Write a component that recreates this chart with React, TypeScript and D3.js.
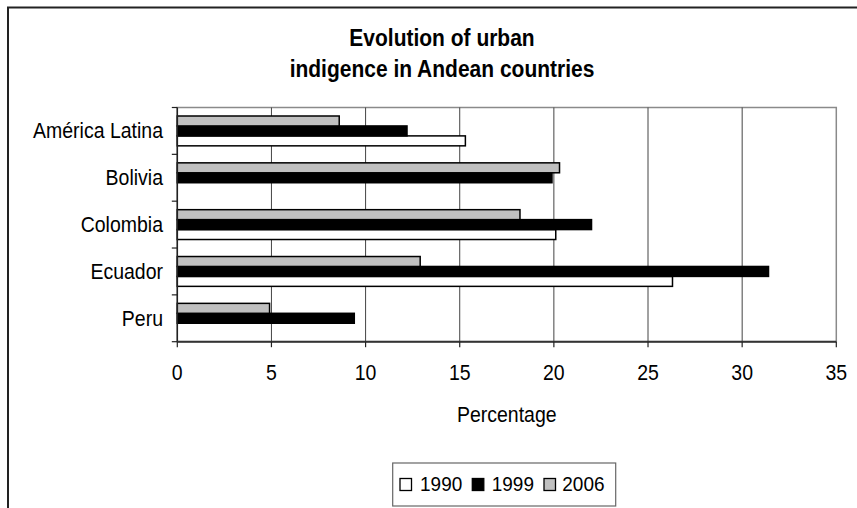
import React from "react";
import * as d3 from "d3";

const countries = ["América Latina", "Bolivia", "Colombia", "Ecuador", "Peru"];
const years = ["1990", "1999", "2006"];
const values1990: (number | null)[] = [15.3, null, 20.1, 26.3, null];
const values1999: (number | null)[] = [12.2, 19.9, 22.0, 31.4, 9.4];
const values2006: (number | null)[] = [8.6, 20.3, 18.2, 12.9, 4.9];
const xTicks = [0, 5, 10, 15, 20, 25, 30, 35];
const titleLines = ["Evolution of urban", "indigence in Andean countries"];
const axisTitle = "Percentage";

const seriesFill: Record<string, string> = {
  "1990": "#ffffff",
  "1999": "#000000",
  "2006": "#c0c0c0",
};

const W = 857;
const H = 508;
const plot = { left: 177.3, right: 836.3, top: 107.5, bottom: 341.7 };
const FONT = "'Liberation Sans', Arial, Helvetica, sans-serif";
const STRETCH = 1.1;

type LabelProps = {
  x: number;
  y: number;
  size: number;
  anchor?: "start" | "middle" | "end";
  bold?: boolean;
  children: React.ReactNode;
};

// text slightly stretched vertically, anchored at its baseline
function Label({ x, y, size, anchor = "start", bold = false, children }: LabelProps) {
  return (
    <text
      transform={`translate(${x},${y}) scale(1,${STRETCH})`}
      textAnchor={anchor}
      fontSize={size}
      fontWeight={bold ? "bold" : "normal"}
      fill="#000"
    >
      {children}
    </text>
  );
}

export default function App() {
  const x = d3.scaleLinear().domain([0, 35]).range([plot.left, plot.right]);
  const y = d3
    .scaleBand<string>()
    .domain(countries)
    .range([plot.top, plot.bottom])
    .paddingInner(0)
    .paddingOuter(0);
  const step = y.bandwidth();
  // bars inside a group, top to bottom: 2006, 1999, 1990
  const inner = d3
    .scaleBand<string>()
    .domain(["2006", "1999", "1990"])
    .range([8.5, step - 8.5]);

  const seriesValues: Record<string, (number | null)[]> = {
    "1990": values1990,
    "1999": values1999,
    "2006": values2006,
  };

  const bars: { key: string; x0: number; x1: number; y0: number; h: number; fill: string }[] = [];
  countries.forEach((c, i) => {
    years.forEach((yr) => {
      const v = seriesValues[yr][i];
      if (v == null) return;
      bars.push({
        key: `${c}-${yr}`,
        x0: x(0),
        x1: x(v),
        y0: (y(c) as number) + (inner(yr) as number),
        h: inner.bandwidth(),
        fill: seriesFill[yr],
      });
    });
  });

  const boundaries = d3.range(countries.length + 1).map((i) => plot.top + i * step);
  const titleCx = 442;

  const legendItems = [
    { year: "1990", sx: 400, tx: 420 },
    { year: "1999", sx: 472.3, tx: 491.7 },
    { year: "2006", sx: 544, tx: 562.3 },
  ];

  return (
    <svg
      width={W}
      height={H}
      style={{ position: "fixed", left: 0, top: 0, background: "#fff" }}
      fontFamily={FONT}
    >
      <rect x={0} y={0} width={W} height={H} fill="#fff" />
      {/* chart frame */}
      <rect x={8} y={7.5} width={1000} height={700} fill="none" stroke="#222" strokeWidth={2} />

      {/* title */}
      <Label x={titleCx} y={46} size={21} anchor="middle" bold>
        {titleLines[0]}
      </Label>
      <Label x={titleCx} y={76.7} size={21} anchor="middle" bold>
        {titleLines[1]}
      </Label>

      {/* plot border */}
      <rect
        x={plot.left}
        y={plot.top}
        width={plot.right - plot.left}
        height={plot.bottom - plot.top}
        fill="#fff"
        stroke="#8a8a8a"
        strokeWidth={1.5}
      />

      {/* vertical gridlines */}
      {xTicks.slice(1, -1).map((t) => (
        <line
          key={`g${t}`}
          x1={x(t)}
          x2={x(t)}
          y1={plot.top}
          y2={plot.bottom}
          stroke="#444"
          strokeWidth={1}
        />
      ))}

      {/* bars */}
      {bars.map((b) => (
        <rect
          key={b.key}
          x={b.x0}
          y={b.y0}
          width={b.x1 - b.x0}
          height={b.h}
          fill={b.fill}
          stroke="#000"
          strokeWidth={1.5}
        />
      ))}

      {/* category axis */}
      <line x1={plot.left} x2={plot.left} y1={plot.top} y2={plot.bottom} stroke="#222" strokeWidth={1.5} />
      {boundaries.map((b, i) => (
        <line key={`yt${i}`} x1={plot.left - 5.5} x2={plot.left} y1={b} y2={b} stroke="#222" strokeWidth={1.2} />
      ))}
      {countries.map((c) => (
        <Label key={`yl${c}`} x={163} y={(y(c) as number) + step / 2 + 7.3} size={19.5} anchor="end">
          {c}
        </Label>
      ))}

      {/* value axis */}
      <line x1={plot.left} x2={plot.right} y1={plot.bottom} y2={plot.bottom} stroke="#333" strokeWidth={2} />
      {xTicks.map((t) => (
        <g key={`xt${t}`}>
          <line x1={x(t)} x2={x(t)} y1={plot.bottom} y2={plot.bottom + 5.5} stroke="#222" strokeWidth={1.2} />
          <Label x={x(t)} y={380} size={19.5} anchor="middle">
            {t}
          </Label>
        </g>
      ))}
      <Label x={(plot.left + plot.right) / 2} y={421.7} size={19.5} anchor="middle">
        {axisTitle}
      </Label>

      {/* legend */}
      <rect x={392.7} y={463} width={223} height={43} fill="#fff" stroke="#666" strokeWidth={1.2} />
      {legendItems.map((it) => (
        <g key={`lg${it.year}`}>
          <rect x={it.sx} y={478.5} width={11.5} height={12} fill={seriesFill[it.year]} stroke="#000" strokeWidth={1.3} />
          <Label x={it.tx} y={490.7} size={19}>
            {it.year}
          </Label>
        </g>
      ))}
    </svg>
  );
}
